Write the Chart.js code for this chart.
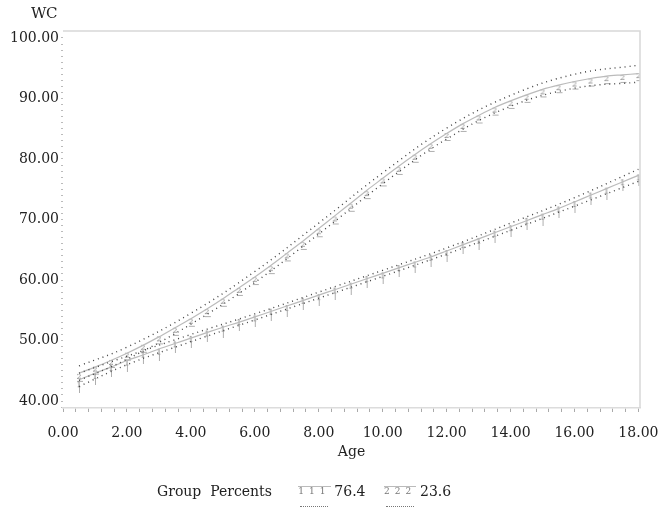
<!DOCTYPE html>
<html>
<head>
<meta charset="utf-8">
<script src="https://cdn.jsdelivr.net/npm/chart.js@4.4.1/dist/chart.umd.min.js"></script>
<style>
    body { margin: 0; background: #fff; font-family: "DejaVu Serif", serif; color: #222; }
    #wrap { position: relative; width: 668px; height: 519px; }
    #ylab { position: absolute; left: 31px; top: 4px; font-size: 15px; letter-spacing: -0.5px; }
    #legend { position: absolute; left: 157px; top: 483px; font-size: 14px; white-space: nowrap; }
    #legend span { display: inline-block; vertical-align: top; }
    .sample { position: relative; width: 34px; height: 26px; margin: 0 2px 0 22px; }
    .sample.s2 { margin-left: 14px; }
    .sample .g { position: absolute; left: 0; top: 3px; font-size: 9px; color: #777; letter-spacing: 5px; border-top: 1px solid #bbb; line-height: 9px; padding-top: 0; }
    .sample .d { position: absolute; left: 2px; top: 23px; width: 28px; border-top: 1px dotted #777; }
</style>
</head>
<body>
<div id="wrap">
    <canvas id="chart" width="668" height="519"></canvas>
    <div id="ylab">WC</div>
    <div id="legend">
        <span>Group&nbsp; Percents</span>
        <span class="sample"><span class="g">111</span><span class="d"></span></span><span>76.4</span>
        <span class="sample s2"><span class="g">222</span><span class="d"></span></span><span>23.6</span>
    </div>
</div>
<script>
    // Ages of the observed points / estimated curves
    const ages = [0.5, 1, 1.5, 2, 2.5, 3, 3.5, 4, 4.5, 5, 5.5, 6, 6.5, 7, 7.5, 8, 8.5, 9,
        9.5, 10, 10.5, 11, 11.5, 12, 12.5, 13, 13.5, 14, 14.5, 15, 15.5, 16, 16.5, 17, 17.5, 18];

    // Group 1 (76.4%) - estimated and observed WC
    const est1 = [43.5, 44.6, 45.6, 46.7, 47.6, 48.6, 49.5, 50.4, 51.3, 52.2, 53.0, 53.9, 54.8, 55.7,
        56.6, 57.5, 58.4, 59.3, 60.2, 61.1, 62.0, 62.9, 63.8, 64.8, 65.8, 66.8, 67.8, 68.8, 69.8, 70.8,
        71.8, 72.9, 74.0, 75.1, 76.2, 77.3];
    const obs1 = [42.6, 44.0, 45.3, 46.2, 47.5, 48.0, 49.2, 50.1, 51.0, 51.8, 52.9, 53.5, 54.6, 55.2,
        56.4, 57.0, 58.1, 58.9, 60.0, 60.6, 61.8, 62.4, 63.5, 64.3, 65.6, 66.3, 67.5, 68.4, 69.6, 70.3,
        71.5, 72.4, 73.8, 74.6, 76.0, 76.8];

    // Group 2 (23.6%)
    const est2 = [44.6, 45.6, 46.7, 47.9, 49.2, 50.6, 52.1, 53.6, 55.2, 56.9, 58.7, 60.5, 62.4, 64.4,
        66.4, 68.5, 70.6, 72.7, 74.8, 76.8, 78.8, 80.7, 82.5, 84.2, 85.8, 87.2, 88.5, 89.6, 90.6, 91.5,
        92.2, 92.8, 93.3, 93.7, 93.9, 94.1];
    const obs2 = [44.0, 45.2, 46.3, 47.5, 48.8, 50.2, 51.6, 53.1, 54.7, 56.4, 58.2, 60.0, 61.8, 63.9,
        65.8, 67.9, 70.0, 72.1, 74.2, 76.3, 78.2, 80.2, 82.0, 83.8, 85.3, 86.7, 88.0, 89.1, 90.1, 91.0,
        91.7, 92.3, 92.8, 93.2, 93.4, 93.7];

    // Confidence limits (dotted)
    const ciAges = [0.5, 2, 4, 6, 8, 10, 12, 14, 16, 18];
    const hi1 = [44.6, 47.4, 51.0, 54.4, 58.0, 61.6, 65.3, 69.4, 73.6, 78.3];
    const lo1 = [42.4, 46.0, 49.8, 53.4, 57.0, 60.6, 64.3, 68.2, 72.2, 76.3];
    const hi2 = [45.8, 48.9, 54.5, 61.4, 69.4, 77.7, 85.1, 90.5, 94.0, 95.5];
    const lo2 = [43.4, 46.9, 52.7, 59.6, 67.6, 75.9, 83.3, 88.7, 91.7, 92.7];

    const yTicks = [40, 50, 60, 70, 80, 90, 100];

    const pts = (xs, ys) => xs.map((x, i) => ({ x: x, y: ys[i] }));

    // little glyph markers like the SAS plot symbols
    function glyph(ch) {
        const c = document.createElement('canvas');
        c.width = 10; c.height = 16;
        const g = c.getContext('2d');
        g.fillStyle = '#777';
        g.strokeStyle = '#999';
        g.lineWidth = 0.8;
        g.font = '8px "DejaVu Serif"';
        g.textAlign = 'center';
        g.textBaseline = 'middle';
        g.fillText(ch, 5, 8);
        g.beginPath();
        if (ch === '1') {
            g.moveTo(5.5, 9); g.lineTo(5.5, 16);
        } else {
            g.moveTo(3, 12.5); g.lineTo(9, 12.5);
        }
        g.stroke();
        return c;
    }

    // top/right frame lines
    const frame = {
        id: 'frame',
        afterDraw(chart) {
            const a = chart.chartArea, ctx = chart.ctx;
            ctx.save();
            ctx.strokeStyle = '#d8d8d8';
            ctx.lineWidth = 1.5;
            ctx.beginPath();
            ctx.moveTo(a.left, a.top);
            ctx.lineTo(a.right, a.top);
            ctx.lineTo(a.right, a.bottom);
            ctx.stroke();
            ctx.restore();
        }
    };

    const est = (data) => ({ data: data, borderColor: '#bbb', borderWidth: 1.2, pointRadius: 0, tension: 0.3 });
    const ci = (data) => ({ data: data, borderColor: '#444', borderWidth: 1.4, borderDash: [1, 4], pointRadius: 0, tension: 0.4 });
    const obs = (data, ch) => ({ data: data, showLine: false, pointStyle: glyph(ch), pointRadius: 5 });

    new Chart(document.getElementById('chart'), {
        type: 'scatter',
        data: {
            datasets: [
                ci(pts(ciAges, hi1)), ci(pts(ciAges, lo1)),
                ci(pts(ciAges, hi2)), ci(pts(ciAges, lo2)),
                est(pts(ages, est1)), est(pts(ages, est2)),
                obs(pts(ages, obs1), '1'),
                obs(pts(ages, obs2), '2')
            ].map(d => Object.assign({ showLine: true, fill: false }, d))
        },
        options: {
            responsive: false,
            animation: false,
            layout: { padding: { top: 31, right: 28, bottom: 50, left: 0 } },
            plugins: { legend: { display: false }, tooltip: { enabled: false } },
            scales: {
                x: {
                    type: 'linear', min: 0, max: 18.05,
                    afterBuildTicks: s => {
                        const t = [];
                        for (let i = 0; i <= 45; i++) t.push({ value: i * 0.4 });
                        s.ticks = t;
                    },
                    afterFit: s => { s.height = 61; s.paddingRight = 0; s.paddingLeft = 0; },
                    grid: { drawOnChartArea: false, tickLength: 4, tickColor: '#aaa' },
                    border: { color: '#dcdcdc', width: 1.5 },
                    ticks: {
                        autoSkip: false, maxRotation: 0, padding: 13,
                        color: '#222', font: { family: 'DejaVu Serif', size: 14 },
                        callback: v => (Math.abs(v / 2 - Math.round(v / 2)) < 1e-6 ? v.toFixed(2) : '')
                    },
                    title: { display: true, text: 'Age', color: '#222', padding: { top: 4, bottom: 8 }, font: { family: 'DejaVu Serif', size: 14 } }
                },
                y: {
                    type: 'linear', min: 38.85, max: 101.15,
                    afterBuildTicks: s => {
                        const t = [];
                        for (let v = 39; v <= 100; v++) t.push({ value: v });
                        s.ticks = t;
                    },
                    afterFit: s => { s.width = 63; },
                    grid: { drawOnChartArea: false, tickLength: 2, tickColor: '#bbb' },
                    border: { display: false },
                    ticks: {
                        autoSkip: false, padding: 2,
                        color: '#222', font: { family: 'DejaVu Serif', size: 14 },
                        callback: v => (yTicks.includes(v) ? v.toFixed(2) : '')
                    }
                }
            }
        },
        plugins: [frame]
    });
</script>
</body>
</html>
